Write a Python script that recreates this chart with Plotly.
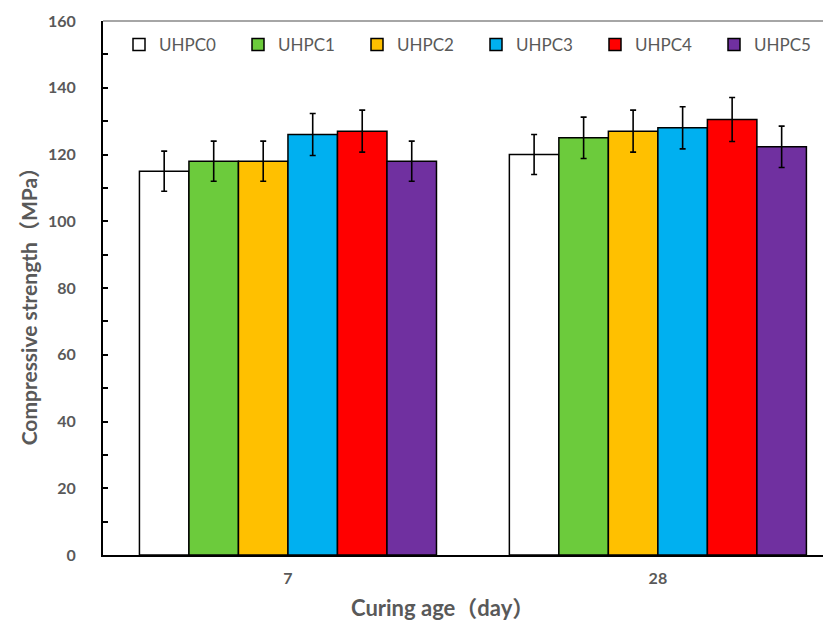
import plotly.graph_objects as go

categories = ["7", "28"]
series_names = ["UHPC0", "UHPC1", "UHPC2", "UHPC3", "UHPC4", "UHPC5"]
values = {
    "UHPC0": [115.0, 120.0],
    "UHPC1": [118.0, 125.0],
    "UHPC2": [118.0, 127.0],
    "UHPC3": [126.0, 128.0],
    "UHPC4": [127.0, 130.5],
    "UHPC5": [118.0, 122.3],
}
errors = {
    "UHPC0": [6.0, 6.0],
    "UHPC1": [6.0, 6.2],
    "UHPC2": [6.0, 6.3],
    "UHPC3": [6.3, 6.3],
    "UHPC4": [6.3, 6.6],
    "UHPC5": [6.0, 6.2],
}
colors = ["#FFFFFF", "#6CCB3C", "#FFC000", "#00B0F0", "#FF0000", "#7030A0"]

fig = go.Figure()
for name, col in zip(series_names, colors):
    fig.add_trace(go.Bar(
        name=name, x=categories, y=values[name],
        marker=dict(color=col, line=dict(color="#000000", width=1.5)),
        error_y=dict(type="data", array=errors[name], color="#000000", thickness=1.6, width=3),
    ))

gray = "#595959"
font_family = "Lato, Noto Sans CJK SC, sans-serif"

W, H = 823, 615
L, T, B = 95, 13, 68
PW, PH = W - L, H - T - B

fig.update_layout(
    width=W, height=H,
    margin=dict(l=L, r=0, t=T, b=B, autoexpand=False),
    paper_bgcolor="white", plot_bgcolor="white",
    barmode="group", bargap=0.197, bargroupgap=0,
    showlegend=True,
    legend=dict(
        orientation="h", x=16 / PW, y=1 - 24 / PH, xanchor="left", yanchor="middle",
        font=dict(family=font_family, size=17, color=gray),
        entrywidth=74, entrywidthmode="pixels", itemwidth=30,
        bgcolor="rgba(0,0,0,0)",
    ),
    xaxis=dict(
        type="category", range=[-0.5, 1.468],
        showline=True, linecolor="#000000", linewidth=2,
        ticks="", showgrid=False, ticklabelstandoff=8,
        tickfont=dict(family=font_family, size=16, color=gray, weight="bold"),
    ),
    yaxis=dict(
        range=[0, 160], dtick=20, tick0=0,
        showline=True, linecolor="#000000", linewidth=2,
        ticks="inside", ticklen=5, tickwidth=2, tickcolor="#000000",
        minor=dict(dtick=10, ticks="inside", ticklen=5, tickwidth=2, tickcolor="#000000"),
        showgrid=False, zeroline=False, ticklabelstandoff=22,
        tickfont=dict(family=font_family, size=16, color=gray, weight="bold"),
    ),
    shapes=[dict(type="line", xref="paper", yref="paper", x0=0, x1=1, y0=1, y1=1,
                 line=dict(color="#A6A6A6", width=2))],
    annotations=[
        dict(text="Curing age（day）", xref="paper", yref="paper",
             x=(434 - L) / PW, y=-37 / PH, xanchor="center", yanchor="top",
             showarrow=False,
             font=dict(family=font_family, size=22, color=gray, weight="bold")),
        dict(text="Compressive strength（MPa）", xref="paper", yref="paper",
             x=-(L - 20) / PW, y=0.475, xanchor="center", yanchor="middle",
             textangle=-90, showarrow=False,
             font=dict(family=font_family, size=21, color=gray, weight="bold")),
    ],
)

fig.write_html("out.html")
